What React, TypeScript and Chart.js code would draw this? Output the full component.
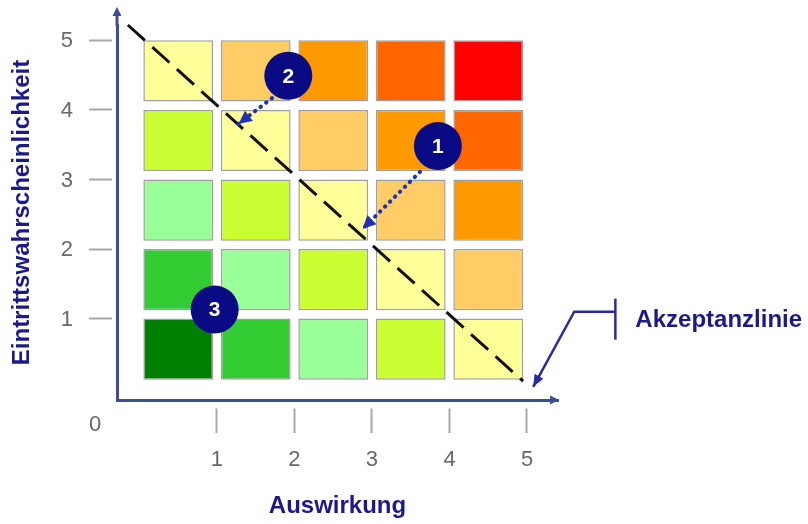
import React, { useEffect, useRef } from 'react';
import { Chart, registerables } from 'chart.js';

Chart.register(...registerables);

// ---------- data ----------
const auswirkung = [1, 2, 3, 4, 5]; // x categories (impact)
const wahrscheinlichkeit = [1, 2, 3, 4, 5]; // y categories (probability)
const xTickValues = [1, 2, 3, 4, 5];
const yTickValues = [1, 2, 3, 4, 5];

// risk level of each cell, rows = Eintrittswahrscheinlichkeit 1..5, columns = Auswirkung 1..5
const riskRow1 = [0, 1, 2, 3, 4];
const riskRow2 = [1, 2, 3, 4, 5];
const riskRow3 = [2, 3, 4, 5, 6];
const riskRow4 = [3, 4, 5, 6, 7];
const riskRow5 = [4, 5, 6, 7, 8];
const riskRows = [riskRow1, riskRow2, riskRow3, riskRow4, riskRow5];
const riskPalette = ['#008000', '#33CC33', '#99FF99', '#CCFF33', '#FFFF99', '#FFCC66', '#FF9900', '#FF6600', '#FF0000'];

// numbered risks
const riskLabels = ['1', '2', '3'];
const riskX = [3.85, 1.92, 0.97];
const riskY = [3.48, 4.49, 1.13];

// movement of risk 1 and risk 2 (start -> end)
const move1X = [3.62, 2.88];
const move1Y = [3.11, 2.29];
const move2X = [1.71, 1.28];
const move2Y = [4.17, 3.8];

// Akzeptanzlinie (dashed diagonal)
const acceptX = [-0.15, 4.95];
const acceptY = [5.22, 0.1];

// callout pointing to the Akzeptanzlinie
const calloutX = [6.14, 5.61, 5.08];
const calloutY = [1.1, 1.1, 0.02];
const calloutText = 'Akzeptanzlinie';

// axis ranges
const xRange = [-0.29, 5.4];
const yRange = [-0.17, 5.22];

// ---------- styles ----------
const FONT = "'Liberation Sans', Arial, sans-serif";
const AXIS_COLOR = '#3e4d94';
const NAVY = '#1a1a8c';
const CIRCLE = '#0a0a84';
const DOTS = '#2230b8';
const CALLOUT = '#2a2aa8';
const TICK_TEXT = '#686868';
const TICK_LINE = '#a8a8a8';
const cellInsetX = 0.05;
const cellInsetY = 0.12;

const zip = (xs: number[], ys: number[]) => xs.map((x, i) => ({ x, y: ys[i] }));

function arrowHead(ctx: CanvasRenderingContext2D, fx: number, fy: number, tx: number, ty: number, len: number, half: number, color: string) {
  const a = Math.atan2(ty - fy, tx - fx);
  const c = Math.cos(a), s = Math.sin(a);
  ctx.save();
  ctx.fillStyle = color;
  ctx.beginPath();
  ctx.moveTo(tx, ty);
  ctx.lineTo(tx - len * c + half * s, ty - len * s - half * c);
  ctx.lineTo(tx - len * c - half * s, ty - len * s + half * c);
  ctx.closePath();
  ctx.fill();
  ctx.restore();
}

const decorPlugin = {
  id: 'decor',
  afterDatasetsDraw(chart: any) {
    const ctx: CanvasRenderingContext2D = chart.ctx;
    const { left, top, right, bottom } = chart.chartArea;
    ctx.save();
    // y axis extension + arrow
    ctx.strokeStyle = AXIS_COLOR;
    ctx.lineWidth = 3;
    ctx.beginPath();
    ctx.moveTo(left, top + 1);
    ctx.lineTo(left, top - 12);
    ctx.stroke();
    arrowHead(ctx, left, top, left, top - 18, 9, 4.5, AXIS_COLOR);
    // x axis arrow
    arrowHead(ctx, left, bottom, right + 1, bottom, 9, 4.5, AXIS_COLOR);

    // "0" label at origin
    ctx.fillStyle = TICK_TEXT;
    ctx.font = `22px ${FONT}`;
    ctx.textAlign = 'center';
    ctx.textBaseline = 'middle';
    ctx.fillText('0', left - 22, bottom + 25);

    chart.data.datasets.forEach((ds: any, i: number) => {
      const meta = chart.getDatasetMeta(i);
      const pts = meta.data;
      if (ds.arrowHead && pts.length >= 2) {
        const a = pts[pts.length - 2], b = pts[pts.length - 1];
        arrowHead(ctx, a.x, a.y, b.x, b.y, ds.arrowHead[0], ds.arrowHead[1], ds.borderColor);
      }
      if (ds.pointLabels) {
        ctx.fillStyle = '#ffffff';
        ctx.font = `bold 21px ${FONT}`;
        ctx.textAlign = 'center';
        ctx.textBaseline = 'middle';
        pts.forEach((p: any, j: number) => ctx.fillText(ds.pointLabels[j], p.x, p.y + 1));
      }
      if (ds.calloutLabel) {
        const p = pts[0];
        ctx.strokeStyle = ds.borderColor;
        ctx.lineWidth = 2.5;
        ctx.beginPath();
        ctx.moveTo(p.x, p.y - 13);
        ctx.lineTo(p.x, p.y + 28);
        ctx.stroke();
        ctx.fillStyle = NAVY;
        ctx.font = `bold 24px ${FONT}`;
        ctx.textAlign = 'left';
        ctx.textBaseline = 'middle';
        ctx.fillText(ds.calloutLabel, p.x + 20, p.y + 9);
      }
    });
    ctx.restore();
  },
};

export default function App() {
  const ref = useRef<HTMLCanvasElement>(null);
  useEffect(() => {
    Chart.defaults.font.family = FONT;
    const cellDatasets = wahrscheinlichkeit.map((p, r) => ({
      type: 'bar' as const,
      label: `W${p}`,
      data: auswirkung.map((a) => ({ x: a - 0.5, y: [p - 1 + cellInsetY, p] })),
      backgroundColor: riskRows[r].map((lvl) => riskPalette[lvl]),
      borderColor: 'rgba(95,95,95,0.6)',
      borderWidth: 1.5,
      borderSkipped: false,
      barPercentage: 1 - 2 * cellInsetX,
      categoryPercentage: 1,
      grouped: false,
      order: 10,
    }));

    const chart = new Chart(ref.current!, {
      type: 'bar',
      data: {
        datasets: [
          {
            type: 'scatter',
            label: 'Risiken',
            data: zip(riskX, riskY),
            backgroundColor: CIRCLE,
            borderWidth: 0,
            pointRadius: 24,
            pointHoverRadius: 24,
            order: 0,
            pointLabels: riskLabels,
          } as any,
          {
            type: 'line',
            label: 'Risiko 1',
            data: zip(move1X, move1Y),
            borderColor: DOTS,
            borderWidth: 4,
            borderDash: [0.5, 6.5],
            borderCapStyle: 'round',
            pointRadius: 0,
            fill: false,
            order: 1,
            arrowHead: [13, 6.5],
          } as any,
          {
            type: 'line',
            label: 'Risiko 2',
            data: zip(move2X, move2Y),
            borderColor: DOTS,
            borderWidth: 4,
            borderDash: [0.5, 6.5],
            borderCapStyle: 'round',
            pointRadius: 0,
            fill: false,
            order: 1,
            arrowHead: [13, 6.5],
          } as any,
          {
            type: 'line',
            label: 'Akzeptanzlinie',
            data: zip(acceptX, acceptY),
            borderColor: '#111111',
            borderWidth: 3,
            borderDash: [23, 10],
            pointRadius: 0,
            fill: false,
            clip: false,
            order: 2,
          } as any,
          {
            type: 'line',
            label: 'Hinweis',
            data: zip(calloutX, calloutY),
            borderColor: CALLOUT,
            borderWidth: 2.5,
            pointRadius: 0,
            fill: false,
            clip: false,
            order: 2,
            arrowHead: [12, 5],
            calloutLabel: calloutText,
          } as any,
          ...cellDatasets,
        ],
      },
      options: {
        responsive: false,
        animation: false,
        devicePixelRatio: 1,
        events: [],
        layout: { autoPadding: false, padding: { top: 25, right: 250, left: 0, bottom: 0 } },
        plugins: { legend: { display: false }, tooltip: { enabled: false } },
        scales: {
          x: {
            type: 'linear',
            min: xRange[0],
            max: xRange[1],
            offset: false,
            afterFit: (s: any) => {
              s.height = 124;
            },
            afterBuildTicks: (s: any) => {
              s.ticks = xTickValues.map((v) => ({ value: v }));
            },
            ticks: { padding: 14, font: { size: 22 }, color: TICK_TEXT, maxRotation: 0, autoSkip: false },
            grid: {
              offset: false,
              drawOnChartArea: false,
              tickLength: 33,
              tickColor: TICK_LINE,
              tickWidth: 2,
              tickBorderDash: [0, 6.5, 25, 200],
            },
            border: { display: true, color: AXIS_COLOR, width: 3 },
            title: {
              display: true,
              text: 'Auswirkung',
              color: NAVY,
              font: { size: 24, weight: 'bold' },
              padding: { top: 0, bottom: 3 },
            },
          },
          y: {
            type: 'linear',
            min: yRange[0],
            max: yRange[1],
            afterFit: (s: any) => {
              s.width = 117;
            },
            afterBuildTicks: (s: any) => {
              s.ticks = yTickValues.map((v) => ({ value: v }));
            },
            ticks: { padding: 0, font: { size: 22 }, color: TICK_TEXT, labelOffset: 1 },
            grid: {
              drawOnChartArea: false,
              tickLength: 44,
              tickColor: TICK_LINE,
              tickWidth: 2,
              tickBorderDash: [0, 16, 23, 100],
            },
            border: { display: true, color: AXIS_COLOR, width: 3 },
            title: {
              display: true,
              text: 'Eintrittswahrscheinlichkeit',
              color: NAVY,
              font: { size: 24, weight: 'bold' },
              padding: { top: 8, bottom: 0 },
            },
          },
        },
      } as any,
      plugins: [decorPlugin],
    } as any);
    return () => chart.destroy();
  }, []);

  return (
    <div style={{ position: 'absolute', left: 0, top: 0, width: 808, height: 524, background: '#ffffff' }}>
      <canvas ref={ref} width={808} height={524} style={{ display: 'block', width: 808, height: 524 }} />
    </div>
  );
}
